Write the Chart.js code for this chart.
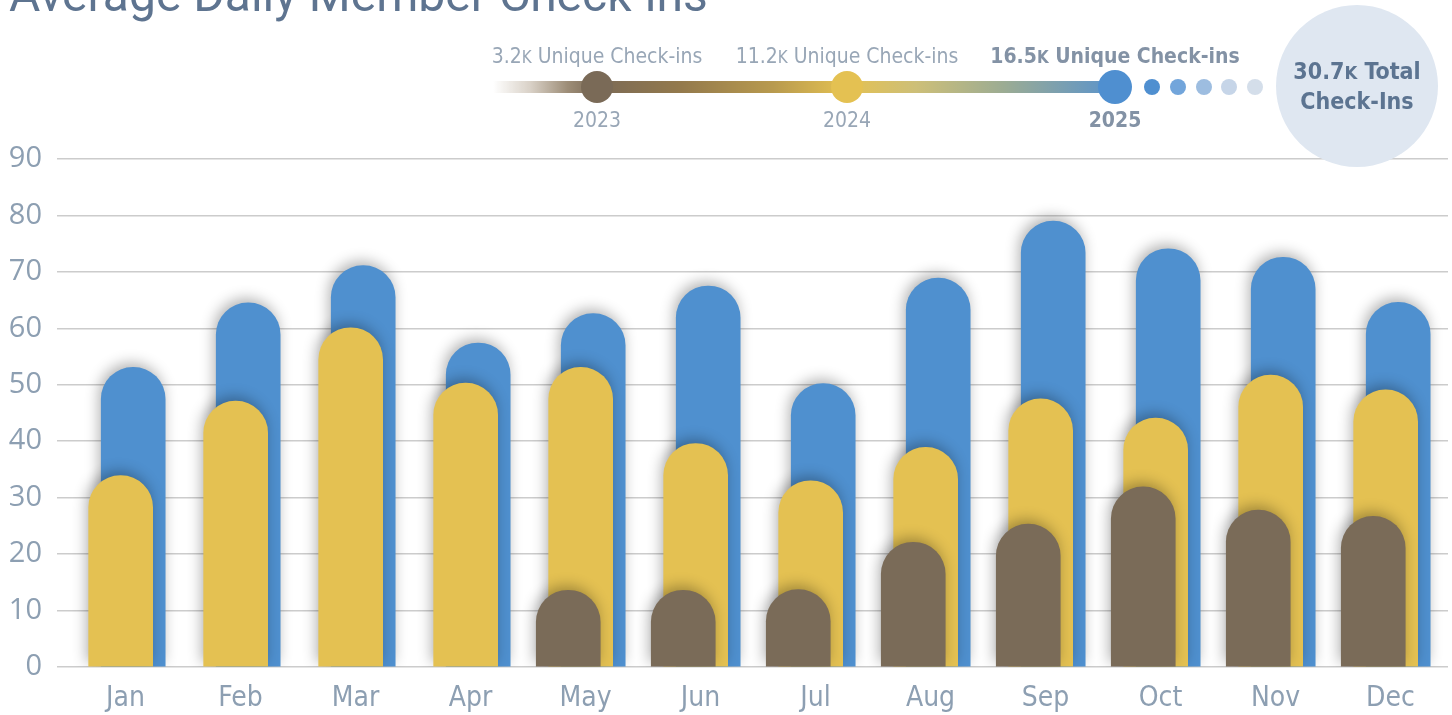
<!DOCTYPE html>
<html><head><meta charset="utf-8">
<script src="https://cdn.jsdelivr.net/npm/chart.js@4.4.1/dist/chart.umd.min.js"></script>
<style>
html,body{margin:0;padding:0;background:#fff;width:1452px;height:715px;overflow:hidden;}
#wrap{position:relative;width:1452px;height:715px;}
#chart{position:absolute;left:0;top:0;}
.narrow{font-family:'Liberation Sans Narrow','DejaVu Sans Condensed','Roboto',sans-serif;}
.title{position:absolute;left:9px;top:-34px;font:400 48px Roboto,sans-serif;color:#5e7490;white-space:nowrap;}
.band{position:absolute;left:493px;top:81px;width:622px;height:12px;
 background:linear-gradient(to right,rgba(255,255,255,0) 0%,#d9d1c7 6%,#9d8d77 12%,#7b6a56 16.7%,#93794c 30%,#b89a4e 45%,#e4c152 56.9%,#cdbf78 68%,#9cac93 82%,#5a93cc 100%);}
.dot{position:absolute;border-radius:50%;transform:translate(-50%,-50%);}
.lbl{position:absolute;transform:translate(-50%,-50%);white-space:nowrap;color:#98a6b6;}
.k{font-size:0.8em;}
.big{position:absolute;left:1276px;top:5px;width:162px;height:162px;border-radius:50%;background:#dfe7f1;
 display:flex;align-items:center;justify-content:center;text-align:center;color:#5c7491;font-weight:700;font-size:23px;line-height:29px;}
</style></head>
<body>
<div id="wrap">
<canvas id="chart" width="1452" height="715"></canvas>
<div class="title">Average Daily Member Check-ins</div>
<div id="legend"></div>
</div>
<script>
// ---- data ----
const months = ['Jan','Feb','Mar','Apr','May','Jun','Jul','Aug','Sep','Oct','Nov','Dec'];
const checkins2023 = [null,null,null,null,13.6,13.6,13.7,22.1,25.3,31.9,27.8,26.7];
const checkins2024 = [33.9,47.1,60.1,50.3,53.1,39.6,33.0,38.9,47.5,44.1,51.7,49.1];
const checkins2025 = [53.1,64.5,71.1,57.4,62.6,67.5,50.2,68.9,79.0,74.1,72.6,64.6];
const yTicks = [0,10,20,30,40,50,60,70,80,90];
const legendYears = ['2023','2024','2025'];
const uniqueCheckins = ['3.2','11.2','16.5'];
const totalCheckins = '30.7';

// ---- legend (HTML) ----
const legend = document.getElementById('legend');
const lx = [597, 847, 1115];
const dotColors = ['#7a6a57','#e4c152','#4f8fd0'];
let html = '<div class="band"></div>';
legendYears.forEach((y,i)=>{
  const bold = i===2;
  const r = bold?34:32;
  html += `<div class="dot" style="left:${lx[i]}px;top:87px;width:${r}px;height:${r}px;background:${dotColors[i]}"></div>`;
  html += `<div class="lbl narrow" style="left:${lx[i]}px;top:56px;font-size:21px;font-weight:${bold?700:400};color:${bold?'#8392a5':'#98a6b6'}">${uniqueCheckins[i]}<span class="k">K</span> Unique Check-ins</div>`;
  html += `<div class="lbl narrow" style="left:${lx[i]}px;top:120px;font-size:21px;font-weight:${bold?700:400};color:${bold?'#8392a5':'#98a6b6'}">${y}</div>`;
});
const small = [[1152,16,'#4f8fd0'],[1178,16,'#72a5db'],[1204,16,'#9dbde0'],[1229,16,'#c6d5e8'],[1255,16,'#d4deea']];
small.forEach(s=>{ html += `<div class="dot" style="left:${s[0]}px;top:87px;width:${s[1]}px;height:${s[1]}px;background:${s[2]}"></div>`; });
html += `<div class="big narrow"><div>${totalCheckins}<span class="k">K</span> Total<br>Check-Ins</div></div>`;
legend.innerHTML = html;

// ---- chart ----
const shadowPlugin = {
  id:'barShadow',
  beforeDatasetDraw(chart){ const c=chart.ctx; c.save(); c.shadowColor='rgba(0,0,0,0.30)'; c.shadowBlur=14; c.shadowOffsetX=-2; c.shadowOffsetY=-4; },
  afterDatasetDraw(chart){ chart.ctx.restore(); }
};
const pts = (arr, off) => arr.map((v,i)=>({x:i+off, y:v}));
const barStyle = {barThickness:64, borderRadius:{topLeft:32,topRight:32,bottomLeft:0,bottomRight:0}, borderSkipped:false, borderWidth:0, grouped:false};
new Chart(document.getElementById('chart'), {
  type:'bar',
  data:{ datasets:[
    Object.assign({label:'2023', data:pts(checkins2023,-0.150), backgroundColor:'#7a6b58'}, barStyle),
    Object.assign({label:'2024', data:pts(checkins2024,-0.042), backgroundColor:'#e4c152'}, barStyle),
    Object.assign({label:'2025', data:pts(checkins2025,0.067), backgroundColor:'#4f90cf'}, barStyle)
  ]},
  options:{
    responsive:false, animation:false, devicePixelRatio:1,
    layout:{padding:{top:159,right:4,left:0,bottom:0}},
    plugins:{legend:{display:false}, tooltip:{enabled:false}},
    scales:{
      x:{type:'linear', min:-0.5, max:11.5, offset:false,
        afterBuildTicks:s=>{ s.ticks = months.map((m,i)=>({value:i})); },
        afterFit:s=>{ s.height = 48; },
        grid:{display:false, drawTicks:false}, border:{display:false},
        ticks:{padding:15, color:'#8d9fb2', font:{family:"'Liberation Sans Narrow','DejaVu Sans Condensed',Roboto,sans-serif", size:28}, callback:v=>months[v] ?? ''}
      },
      y:{min:0, max:90,
        afterBuildTicks:s=>{ s.ticks = yTicks.map(v=>({value:v})); },
        afterFit:s=>{ s.width = 68; },
        grid:{color:'#cccccc', lineWidth:1.5, tickLength:11}, border:{display:false},
        ticks:{padding:15, color:'#8d9fb2', font:{family:"'Open Sans',sans-serif", size:29}}
      }
    }
  },
  plugins:[shadowPlugin]
});
</script>
</body></html>
